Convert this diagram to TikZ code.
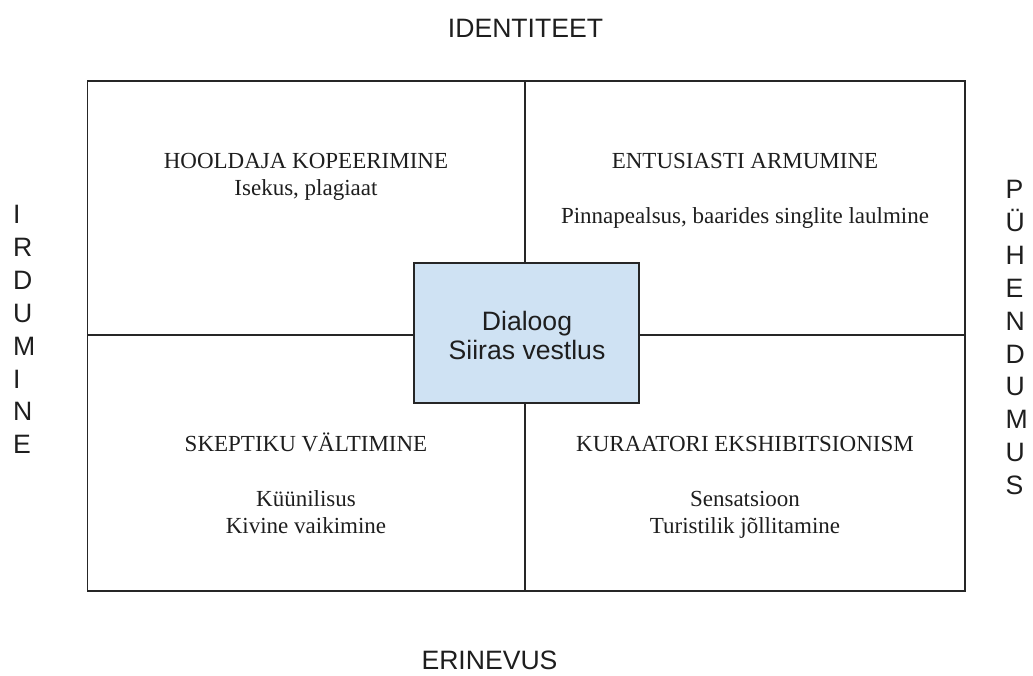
\documentclass[tikz,border=0pt]{standalone}
\usepackage{fontspec}
\setmainfont{Liberation Serif}
\newfontfamily\arialfont{Liberation Sans}
\definecolor{boxblue}{HTML}{CFE2F3}
\definecolor{linegray}{HTML}{262626}
\definecolor{textgray}{HTML}{1E1E1E}
\tikzset{
  gridline/.style={draw=linegray,line width=1.5pt},
  quadtext/.style={font=\fontsize{23}{27}\selectfont,anchor=base,inner sep=0pt,text=textgray},
  sans/.style={font=\arialfont\fontsize{26.6}{32.9}\selectfont,inner sep=0pt,text=textgray},
  vertlabel/.style={sans,align=left,anchor=north west},
  centerbox/.style={draw=linegray,line width=1.5pt,fill=boxblue,minimum width=225pt,minimum height=140pt,inner sep=0pt}
}
\begin{document}
\begin{tikzpicture}[x=1pt,y=-1pt]
\useasboundingbox (0,0) rectangle (1033,675);
% frame corners
\coordinate (tl) at (87.5,81);
\coordinate (br) at (965,591);
\coordinate (mt) at (525,81);
\coordinate (mb) at (525,591);
\coordinate (ml) at (87.5,335);
\coordinate (mr) at (965,335);
\draw[gridline] (tl) rectangle (br);
\draw[gridline] (mt) -- (mb);
\draw[gridline] (ml) -- (mr);
% center box
\node[centerbox] (dialog) at (526.5,333) {};
\node[sans,anchor=base] (dialogA) at (527,330) {Dialoog};
\node[sans,anchor=base] (dialogB) at (527,359) {Siiras vestlus};
% axis labels
\node[sans,anchor=base] (top) at (525.5,37.5) {IDENTITEET};
\node[sans,anchor=base] (bottom) at (489.5,669) {ERINEVUS};
\node[vertlabel] (left) at (13,205) {I\\R\\D\\U\\M\\I\\N\\E};
\node[vertlabel] (right) at (1005.5,180) {P\\Ü\\H\\E\\N\\D\\U\\M\\U\\S};
% quadrants
\node[quadtext] (q1a) at (306,168) {HOOLDAJA KOPEERIMINE};
\node[quadtext] (q1b) at (306,195) {Isekus, plagiaat};
\node[quadtext] (q2a) at (745,168) {ENTUSIASTI ARMUMINE};
\node[quadtext] (q2b) at (745,223) {Pinnapealsus, baarides singlite laulmine};
\node[quadtext] (q3a) at (306,451) {SKEPTIKU VÄLTIMINE};
\node[quadtext] (q3b) at (306,506) {Küünilisus};
\node[quadtext] (q3c) at (306,533) {Kivine vaikimine};
\node[quadtext] (q4a) at (745,451) {KURAATORI EKSHIBITSIONISM};
\node[quadtext] (q4b) at (745,506) {Sensatsioon};
\node[quadtext] (q4c) at (745,533) {Turistilik jõllitamine};
\end{tikzpicture}
\end{document}
